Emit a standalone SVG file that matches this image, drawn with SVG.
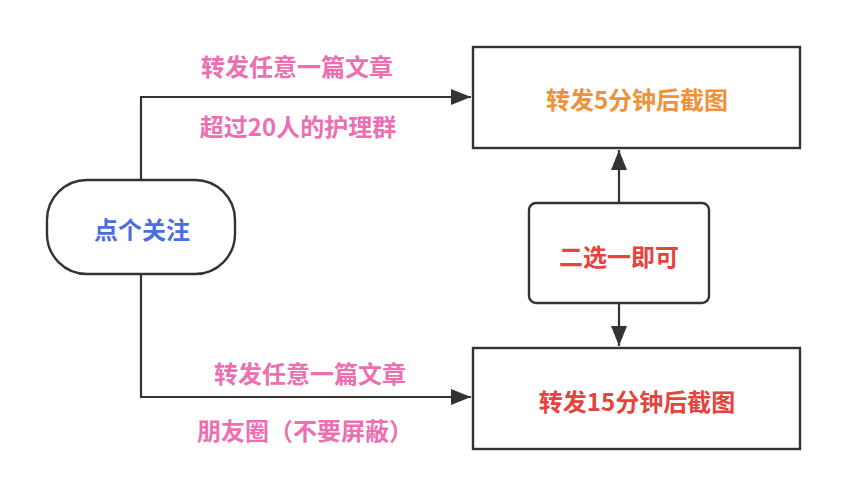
<svg xmlns="http://www.w3.org/2000/svg" width="846" height="496" viewBox="0 0 846 496">
<defs>
<style>
.box{fill:#fff;stroke:#333;stroke-width:2.4}
.edge{fill:none;stroke:#333;stroke-width:2.2}
text{font-family:"Noto Sans CJK SC","Noto Sans",sans-serif;font-weight:bold;font-size:24px;text-anchor:middle;dominant-baseline:central}
.lbl{fill:#EC6FB2}
</style>
<marker id="arrB" viewBox="0 0 20 16" refX="20" refY="8" markerWidth="20" markerHeight="16" markerUnits="userSpaceOnUse" orient="auto">
<path d="M0,0 L20,8 L0,16 Z" fill="#333"/>
</marker>
</defs>
<rect width="846" height="496" fill="#fff"/>
<g id="connectors">
<path class="edge" d="M141,180 V97 H471" marker-end="url(#arrB)"/>
<path class="edge" d="M141,274 V397 H471" marker-end="url(#arrB)"/>
<path class="edge" d="M619,203 V150" marker-end="url(#arrB)"/>
<path class="edge" d="M619,303 V346" marker-end="url(#arrB)"/>
</g>
<g id="start">
<rect class="box" x="47" y="180" width="188" height="94" rx="40" ry="40"/>
<text x="142" y="228" fill="#4A6EE0">点个关注</text>
</g>
<g id="box5">
<rect class="box" x="473" y="47" width="327" height="101"/>
<text x="637" y="98" fill="#F0913A">转发5分钟后截图</text>
</g>
<g id="choose">
<rect class="box" x="529" y="203" width="180" height="100" rx="7" ry="7"/>
<text x="619" y="255" fill="#E4443C">二选一即可</text>
</g>
<g id="box15">
<rect class="box" x="473" y="348" width="327" height="101"/>
<text x="637" y="400" fill="#E4443C">转发15分钟后截图</text>
</g>
<g id="labels">
<text class="lbl" x="297" y="65">转发任意一篇文章</text>
<text class="lbl" x="298" y="125">超过20人的护理群</text>
<text class="lbl" x="310" y="372">转发任意一篇文章</text>
<text class="lbl" x="305" y="429">朋友圈（不要屏蔽）</text>
</g>
</svg>
